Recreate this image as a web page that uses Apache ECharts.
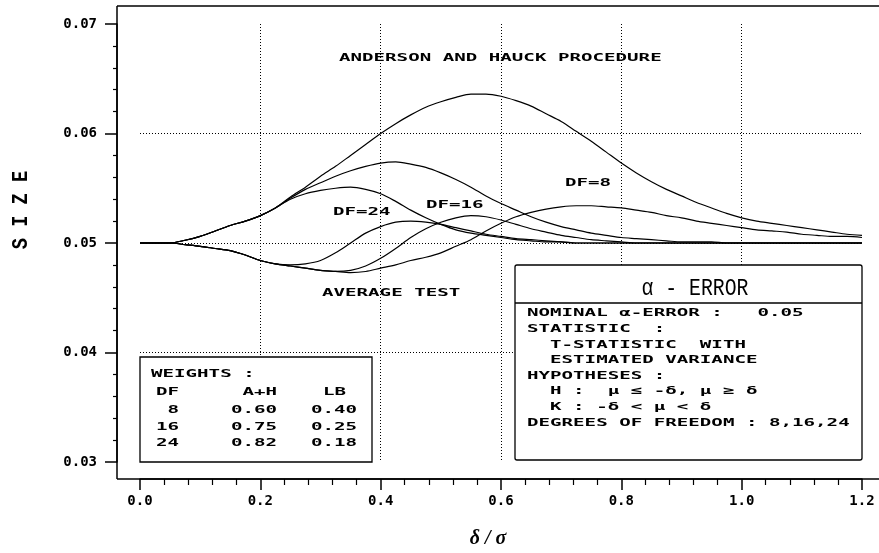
<!DOCTYPE html>
<html><head><meta charset="utf-8">
<script src="https://cdn.jsdelivr.net/npm/echarts@6/dist/echarts.min.js"></script>
<style>html,body{margin:0;padding:0;background:#fff}#c{width:879px;height:553px}</style>
</head><body><div id="c"></div>
<script>
// delta / sigma
const xs = [0.000,0.025,0.050,0.075,0.100,0.125,0.150,0.175,0.200,0.225,
            0.250,0.275,0.300,0.325,0.350,0.375,0.400,0.425,0.450,0.475,
            0.500,0.525,0.550,0.575,0.600,0.625,0.650,0.675,0.700,0.725,
            0.750,0.775,0.800,0.825,0.850,0.875,0.900,0.925,0.950,0.975,
            1.000,1.025,1.050,1.075,1.100,1.125,1.150,1.175,1.200];
// Anderson and Hauck procedure
const ahDf8  = [0.0500,0.0500,0.0500,0.05025,0.0506,0.0511,0.0516,0.0520,0.0525,0.0532,
                0.0542,0.0551,0.0561,0.0570,0.0580,0.0590,0.0600,0.0609,0.0617,0.0624,
                0.0629,0.0633,0.0636,0.0636,0.0634,0.0630,0.0625,0.0618,0.0611,0.0602,
                0.0593,0.0583,0.0573,0.0564,0.0556,0.0549,0.0543,0.0537,0.0532,0.0527,
                0.0523,0.0520,0.0518,0.0516,0.0514,0.0512,0.0510,0.0508,0.0507];
const ahDf16 = [0.0500,0.0500,0.0500,0.05025,0.0506,0.0511,0.0516,0.0520,0.0525,0.0532,
                0.0541,0.0549,0.0555,0.0561,0.0566,0.0570,0.0573,0.0574,0.0572,0.0569,
                0.0564,0.0558,0.0551,0.0543,0.0536,0.0530,0.0524,0.0519,0.0515,0.0512,
                0.0509,0.0507,0.0505,0.0504,0.0503,0.0502,0.0501,0.0501,0.0501,0.0500,
                0.0500,0.0500,0.0500,0.0500,0.0500,0.0500,0.0500,0.0500,0.0500];
const ahDf24 = [0.0500,0.0500,0.0500,0.05025,0.0506,0.0511,0.0516,0.0520,0.0525,0.0532,
                0.0540,0.0545,0.0548,0.0550,0.0551,0.0549,0.0545,0.0538,0.0530,0.0523,
                0.0517,0.0512,0.0509,0.0507,0.0505,0.0503,0.0502,0.0501,0.0501,0.0500,
                0.0500,0.0500,0.0500,0.0500,0.0500,0.0500,0.0500,0.0500,0.0500,0.0500,
                0.0500,0.0500,0.0500,0.0500,0.0500,0.0500,0.0500,0.0500,0.0500];
// Average test
const avDf24 = [0.0500,0.0500,0.0500,0.04985,0.0497,0.0495,0.0493,0.0489,0.0484,0.0481,
                0.0480,0.0481,0.0484,0.0491,0.0500,0.0509,0.0515,0.0519,0.0520,0.0519,
                0.0517,0.0514,0.0511,0.0508,0.0506,0.0504,0.0503,0.0502,0.0501,0.0500,
                0.0500,0.0500,0.0500,0.0500,0.0500,0.0500,0.0500,0.0500,0.0500,0.0500,
                0.0500,0.0500,0.0500,0.0500,0.0500,0.0500,0.0500,0.0500,0.0500];
const avDf16 = [0.0500,0.0500,0.0500,0.04985,0.0497,0.0495,0.0493,0.0489,0.0484,0.0481,
                0.0479,0.0477,0.0475,0.0474,0.0475,0.0479,0.0486,0.0495,0.0505,0.0513,
                0.0519,0.0523,0.0525,0.0524,0.0521,0.0517,0.0513,0.0510,0.0507,0.0505,
                0.0503,0.0502,0.0501,0.0500,0.0500,0.0500,0.0500,0.0500,0.0500,0.0500,
                0.0500,0.0500,0.0500,0.0500,0.0500,0.0500,0.0500,0.0500,0.0500];
const avDf8  = [0.0500,0.0500,0.0500,0.04985,0.0497,0.0495,0.0493,0.0489,0.0484,0.0481,
                0.0479,0.0477,0.0475,0.0474,0.0473,0.0474,0.0477,0.0480,0.0484,0.0487,
                0.0491,0.0497,0.0503,0.0511,0.0518,0.0524,0.0528,0.0531,0.0533,0.0534,
                0.0534,0.0533,0.0532,0.0530,0.0528,0.0525,0.0523,0.0520,0.0518,0.0516,
                0.0514,0.0512,0.0511,0.0510,0.0508,0.0507,0.0506,0.0506,0.0505];

const xTickLabels = ['0.0','0.2','0.4','0.6','0.8','1.0','1.2'];
const yTickLabels = ['0.03','0.04','0.05','0.06','0.07'];

const weightRows = [['8','0.60','0.40'],['16','0.75','0.25'],['24','0.82','0.18']];
const alphaLines = [
  'NOMINAL α-ERROR :   0.05',
  'STATISTIC  :',
  '  T-STATISTIC  WITH',
  '  ESTIMATED VARIANCE',
  'HYPOTHESES :',
  '  H :  μ ≤ -δ, μ ≥ δ',
  '  K : -δ < μ < δ',
  'DEGREES OF FREEDOM : 8,16,24'
];

const chart = echarts.init(document.getElementById('c'), null, {renderer:'canvas'});
const mk = (name, ys) => ({
  type:'line', name, data: xs.map((x,i)=>[x, ys[i]]), showSymbol:false,
  smooth:0.3, silent:true, z:3,
  lineStyle:{color:'#000', width:1.2}, itemStyle:{color:'#000'}
});
const MONO = 'DejaVu Sans Mono';
const SX = 1.74;
function t(x, y, s, o) {
  o = o || {};
  return {type:'text', x, y, z:60, scaleX: o.sx || SX, silent:true,
    style:{text:s, fill:'#000', fontFamily:o.ff || MONO, fontWeight:o.fw || 'bold',
      fontSize:o.fs || 11, fontStyle:o.fst || 'normal', textAlign:o.al || 'left', textVerticalAlign:'middle'}};
}
function ln(x1,y1,x2,y2,w){return {type:'line', z:55, silent:true, shape:{x1,y1,x2,y2}, style:{stroke:'#000', lineWidth:w||1.5}};}

const graphics = [
  ln(117,6,879,6,1.5), ln(117,6,117,479,1.5), ln(117,479,879,479,1.5),
  {type:'rect', z:50, silent:true, shape:{x:140,y:357,width:232,height:105}, style:{fill:'#fff', stroke:'#000', lineWidth:1.3}},
  {type:'rect', z:50, silent:true, shape:{x:515,y:265,width:347,height:195,r:2}, style:{fill:'#fff', stroke:'#000', lineWidth:1.3}},
  ln(515,303,862,303,1.3),
  t(695,289,'α - ERROR',{ff:'Liberation Mono', fw:'normal', fs:23, sx:0.86, al:'center'}),
  t(339,58,'ANDERSON AND HAUCK PROCEDURE'),
  t(333,212,'DF=24'), t(426,205,'DF=16'), t(565,183,'DF=8'),
  t(322,293,'AVERAGE TEST'),
  t(151,374,'WEIGHTS :'),
  t(179,392,'DF',{al:'right'}), t(277,392,'A+H',{al:'right'}), t(346,392,'LB',{al:'right'}),
  t(21,210,'S I Z E',{ff:'Liberation Mono', fs:22, sx:0.85, al:'center'}),
  t(488,539,'δ / σ',{ff:'Liberation Serif', fst:'italic', fw:'bold', fs:20, sx:1.0, al:'center'})
];
graphics[graphics.length-2].rotation = Math.PI/2;
weightRows.forEach((r,i)=>{
  const y = 410 + i*16.8;
  graphics.push(t(179,y,r[0],{al:'right'}), t(277,y,r[1],{al:'right'}), t(357,y,r[2],{al:'right'}));
});
alphaLines.forEach((s,i)=>{ graphics.push(t(527, 313.5 + i*15.6, s)); });

const dotted = {type:[1,2], color:'#000', width:1};
chart.setOption({
  animation:false,
  backgroundColor:'#fff',
  grid:{left:140, right:17, top:24, bottom:91},
  xAxis:{type:'value', min:0, max:1.2, interval:0.2, offset:17,
    axisLine:{show:true, onZero:false, lineStyle:{color:'#000', width:1.5}},
    axisTick:{show:true, length:11, lineStyle:{color:'#000', width:1.5}},
    minorTick:{show:true, splitNumber:5, length:6, lineStyle:{color:'#000', width:1.2}},
    axisLabel:{margin:15, color:'#000', fontFamily:MONO, fontWeight:'bold', fontSize:14,
      formatter:v=>xTickLabels[Math.round(v/0.2)]},
    splitLine:{show:true, showMinLine:false, showMaxLine:false, lineStyle:dotted}},
  yAxis:{type:'value', min:0.03, max:0.07, interval:0.01, offset:23,
    axisLine:{show:true, onZero:false, lineStyle:{color:'#000', width:1.5}},
    axisTick:{show:true, length:12, lineStyle:{color:'#000', width:1.5}},
    minorTick:{show:true, splitNumber:5, length:4, lineStyle:{color:'#000', width:1.2}},
    axisLabel:{margin:20, color:'#000', fontFamily:MONO, fontWeight:'bold', fontSize:14,
      formatter:v=>yTickLabels[Math.round((v-0.03)/0.01)]},
    splitLine:{show:true, showMinLine:false, showMaxLine:false, lineStyle:dotted}},
  series:[mk('A+H DF=8',ahDf8), mk('A+H DF=16',ahDf16), mk('A+H DF=24',ahDf24),
          mk('Average DF=24',avDf24), mk('Average DF=16',avDf16), mk('Average DF=8',avDf8)],
  graphic:graphics
});
</script></body></html>
